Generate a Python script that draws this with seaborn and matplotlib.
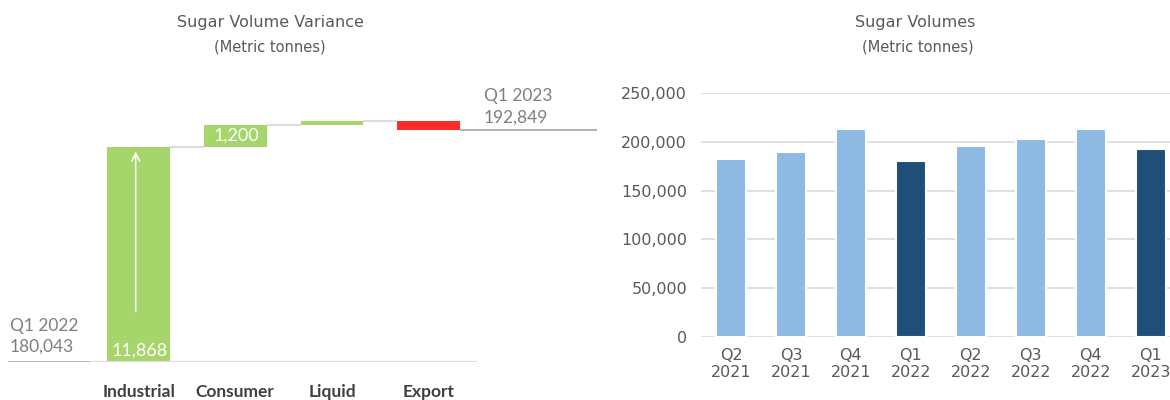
import numpy as np
import pandas as pd
import matplotlib
matplotlib.use("Agg")
import matplotlib.pyplot as plt
from matplotlib.ticker import FuncFormatter
import seaborn as sns

# ---------------- data ----------------
start_label = "Q1 2022"
start_value = 180043
end_label = "Q1 2023"
end_value = 192849
variance_categories = ["Industrial", "Consumer", "Liquid", "Export"]
variance_values = [11868, 1200, 210, -472]
variance_text = ["11,868", "1,200", "", ""]

quarters = ["Q2\n2021", "Q3\n2021", "Q4\n2021", "Q1\n2022",
            "Q2\n2022", "Q3\n2022", "Q4\n2022", "Q1\n2023"]
volumes = [182500, 189500, 213000, 180043, 196000, 203000, 213000, 192849]
highlight = [False, False, False, True, False, False, False, True]

# ---------------- style ----------------
GREEN = "#A6D66B"
RED = "#FF2B2B"
LIGHT_BLUE = "#8DB9E2"
DARK_BLUE = "#1F4E79"
GRID = "#DDDDDD"
TEXT = "#595959"
LABEL_GRAY = "#7F7F7F"

sns.set_theme(style="white")
plt.rcParams["font.family"] = ["DejaVu Sans"]

W, H = 1170, 400
fig = plt.figure(figsize=(W / 100, H / 100), dpi=100)

# ---------------- left: waterfall ----------------
ax1 = fig.add_axes([8 / W, (H - 361.7) / H, (597 - 8) / W, (361.7 - 70) / H])
order = [" "] + variance_categories + ["  "]
wf = pd.DataFrame({"category": variance_categories, "delta": variance_values})
cum = start_value + np.cumsum(variance_values)
bottoms = np.r_[start_value, cum[:-1]]
pal = {c: (GREEN if v >= 0 else RED) for c, v in zip(variance_categories, variance_values)}
bw = 0.65
sns.barplot(data=wf, x="category", y="delta", hue="category", palette=pal,
            order=order, width=bw, legend=False, errorbar=None, saturation=1,
            linewidth=0, ax=ax1)
for p in ax1.patches:
    idx = int(round(p.get_x() + p.get_width() / 2)) - 1
    if 0 <= idx < len(variance_values):
        p.set_y(bottoms[idx])

ax1.set_ylim(start_value, start_value + 16100)
ax1.set_xlim(-0.35, 5.74)
for s in ax1.spines.values():
    s.set_visible(False)
ax1.set_yticks([])
ax1.set_xlabel("")
ax1.set_ylabel("")
ax1.tick_params(axis="x", length=0, pad=16)
for t in ax1.get_xticklabels():
    t.set_family("Lato")
    t.set_fontweight("bold")
    t.set_fontsize(12.5)
    t.set_color("#404040")

# baseline and start/end lines
ax1.hlines(start_value, 0.5, 4.5, color=GRID, lw=1.6, zorder=1)
ax1.hlines(start_value, -0.35, 0.5, color="#A6A6A6", lw=1.2, zorder=3)
ax1.hlines(end_value, 4 + bw / 2, 5.74, color="#A6A6A6", lw=1.2, zorder=3)
# connectors
for i in range(len(variance_values) - 1):
    ax1.hlines(cum[i], i + 1 + bw / 2, i + 2 - bw / 2, color=GRID, lw=1.6, zorder=1)

# value labels inside bars
for i, (txt, b, v) in enumerate(zip(variance_text, bottoms, variance_values)):
    if not txt:
        continue
    y = b + 0.05 * v if abs(v) > 5000 else b + v / 2
    ax1.text(i + 1.01, y, txt, ha="center", va="center", color="white",
             fontsize=13, family="Lato", zorder=5)

# arrow in first bar
ax1.annotate("", xy=(0.97, bottoms[0] + 0.99 * variance_values[0]),
             xytext=(0.97, bottoms[0] + 0.22 * variance_values[0]),
             arrowprops=dict(arrowstyle="->", color="white", lw=1.1,
                             mutation_scale=14), zorder=5)

# start / end labels
ax1.annotate(f"{start_label}\n{start_value:,}", xy=(-0.33, start_value),
             xytext=(0, 5), textcoords="offset points", ha="left", va="bottom",
             fontsize=12.5, family="Lato", color=LABEL_GRAY, linespacing=1.4)
ax1.annotate(f"{end_label}\n{end_value:,}", xy=(4.57, end_value),
             xytext=(0, 3), textcoords="offset points", ha="left", va="bottom",
             fontsize=12.5, family="Lato", color=LABEL_GRAY, linespacing=1.4)

# ---------------- right: quarterly volumes ----------------
ax2 = fig.add_axes([701 / W, (H - 337.3) / H, (1170 - 701) / W, (337.3 - 92.7) / H])
vol = pd.DataFrame({"quarter": quarters, "volume": volumes,
                    "kind": ["hi" if h else "lo" for h in highlight]})
sns.barplot(data=vol, x="quarter", y="volume", hue="kind",
            palette={"lo": LIGHT_BLUE, "hi": DARK_BLUE}, dodge=False,
            width=0.5, legend=False, errorbar=None, saturation=1,
            edgecolor="white", linewidth=1.5, ax=ax2, zorder=3)
ax2.set_xlim(-0.5, 7.32)
ax2.set_ylim(0, 250000)
ax2.set_yticks(np.arange(0, 250001, 50000))
ax2.yaxis.set_major_formatter(FuncFormatter(lambda v, _: f"{int(v):,}"))
ax2.grid(axis="y", color=GRID, lw=1.3, zorder=0)
ax2.set_axisbelow(True)
for s in ax2.spines.values():
    s.set_visible(False)
ax2.set_xlabel("")
ax2.set_ylabel("")
ax2.tick_params(axis="y", length=0, pad=10, labelsize=11.5, labelcolor=TEXT)
ax2.tick_params(axis="x", length=0, pad=8, labelsize=11.5, labelcolor=TEXT)
for t in ax2.get_xticklabels():
    t.set_linespacing(1.15)

# ---------------- titles ----------------
fig.text(270 / W, 1 - 22 / H, "Sugar Volume Variance", ha="center", va="center",
         fontsize=11.5, color=TEXT)
fig.text(270 / W, 1 - 47 / H, "(Metric tonnes)", ha="center", va="center",
         fontsize=10.5, color=TEXT)
fig.text(915 / W, 1 - 22 / H, "Sugar Volumes", ha="center", va="center",
         fontsize=11.5, color=TEXT)
fig.text(918 / W, 1 - 47 / H, "(Metric tonnes)", ha="center", va="center",
         fontsize=10.5, color=TEXT)

fig.savefig("out.png", dpi=100)
